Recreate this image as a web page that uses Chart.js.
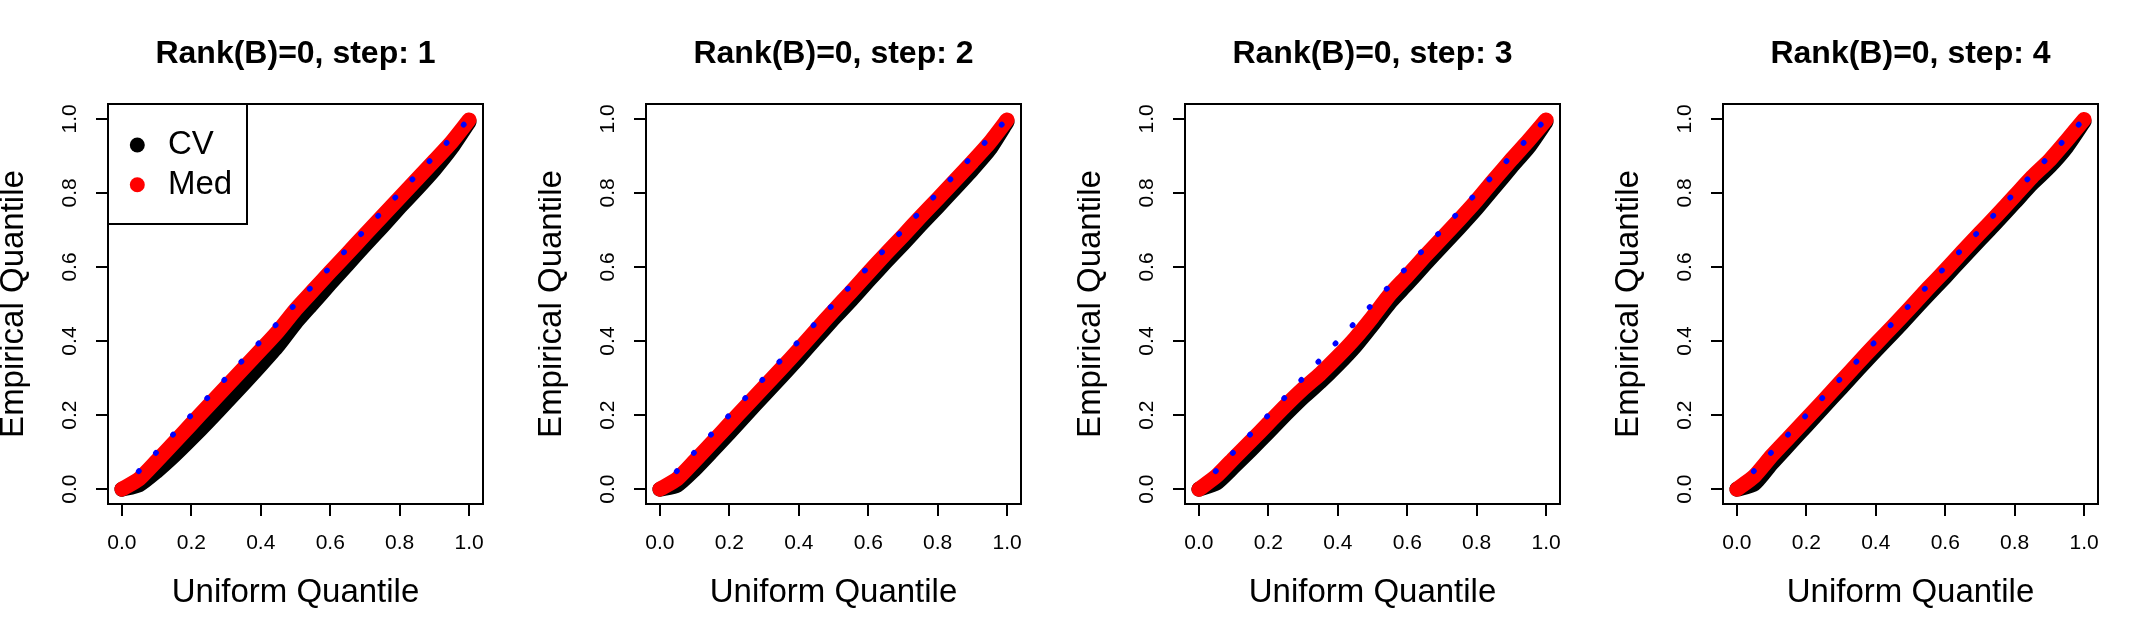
<!DOCTYPE html>
<html>
<head>
<meta charset="utf-8">
<script src="https://cdn.jsdelivr.net/npm/chart.js@4.4.1/dist/chart.umd.min.js"></script>
<style>
  body { margin: 0; background: #fff; width: 2153px; height: 639px; overflow: hidden; position: relative; }
  canvas { position: absolute; top: 0; }
</style>
</head>
<body>
<canvas id="p0" width="538" height="639" style="left:0px"></canvas>
<canvas id="p1" width="538" height="639" style="left:538px"></canvas>
<canvas id="p2" width="538" height="639" style="left:1077px"></canvas>
<canvas id="p3" width="538" height="639" style="left:1615px"></canvas>
<script>
// data QQ plot
const steps = [1, 2, 3, 4];
const uniformQ = [0, 0.05, 0.1, 0.15, 0.2, 0.25, 0.3, 0.35, 0.4, 0.45, 0.5,
                  0.55, 0.6, 0.65, 0.7, 0.75, 0.8, 0.85, 0.9, 0.95, 1];

const medStep1 = [0, 0.028, 0.076, 0.126, 0.176, 0.226, 0.276, 0.326, 0.376, 0.427, 0.485,
                  0.536, 0.587, 0.637, 0.687, 0.737, 0.787, 0.837, 0.887, 0.938, 0.997];
const cvStep1  = [0, 0.012, 0.048, 0.090, 0.136, 0.184, 0.234, 0.284, 0.335, 0.388, 0.449,
                  0.502, 0.555, 0.607, 0.659, 0.709, 0.761, 0.811, 0.863, 0.922, 0.992];

const medStep2 = [0, 0.028, 0.076, 0.126, 0.176, 0.226, 0.276, 0.326, 0.377, 0.430, 0.482,
                  0.532, 0.584, 0.635, 0.684, 0.735, 0.784, 0.834, 0.884, 0.936, 0.997];
const cvStep2  = [0, 0.011, 0.053, 0.102, 0.152, 0.203, 0.254, 0.304, 0.355, 0.408, 0.460,
                  0.510, 0.562, 0.613, 0.662, 0.713, 0.762, 0.812, 0.863, 0.918, 0.992];

const medStep3 = [0, 0.035, 0.083, 0.130, 0.178, 0.226, 0.271, 0.312, 0.358, 0.408, 0.465,
                  0.526, 0.576, 0.628, 0.678, 0.728, 0.780, 0.836, 0.890, 0.942, 0.997];
const cvStep3  = [0, 0.016, 0.060, 0.106, 0.154, 0.202, 0.248, 0.290, 0.336, 0.386, 0.444,
                  0.504, 0.554, 0.606, 0.656, 0.706, 0.758, 0.814, 0.870, 0.924, 0.992];

const medStep4 = [0, 0.035, 0.090, 0.140, 0.190, 0.240, 0.291, 0.342, 0.392, 0.441, 0.491,
                  0.542, 0.591, 0.642, 0.692, 0.741, 0.792, 0.843, 0.888, 0.942, 0.998];
const cvStep4  = [0, 0.014, 0.069, 0.120, 0.171, 0.222, 0.273, 0.324, 0.374, 0.423, 0.473,
                  0.524, 0.573, 0.624, 0.674, 0.723, 0.774, 0.825, 0.870, 0.924, 0.993];

const medSeries = [medStep1, medStep2, medStep3, medStep4];
const cvSeries = [cvStep1, cvStep2, cvStep3, cvStep4];

// garis referensi y = x
const refX = [0, 1];
const refY = [0, 1];

const tickValues = [0, 0.2, 0.4, 0.6, 0.8, 1.0];
const legendLabels = ["CV", "Med"];

const FONT = '"Liberation Sans", Arial, Helvetica, sans-serif';
Chart.defaults.color = "#000";
Chart.defaults.font.family = FONT;

// kotak plot seperti R (box())
const frame = {
    id: "frame",
    afterDatasetsDraw(chart) {
        const { ctx, chartArea: a } = chart;
        ctx.save();
        ctx.strokeStyle = "#000";
        ctx.lineWidth = 2;
        ctx.strokeRect(a.left, a.top, a.right - a.left, a.bottom - a.top);
        ctx.restore();
    }
};

// legenda di pojok kiri atas (hanya panel pertama)
const legendBox = {
    id: "legendBox",
    afterDraw(chart, args, opts) {
        if (!opts.show) return;
        const { ctx, chartArea: a } = chart;
        ctx.save();
        ctx.fillStyle = "#fff";
        ctx.fillRect(a.left, a.top, 139, 120);
        ctx.strokeStyle = "#000";
        ctx.lineWidth = 2;
        ctx.strokeRect(a.left, a.top, 139, 120);
        legendLabels.forEach((lab, i) => {
            const ds = chart.data.datasets.find(d => d.label === lab);
            const y = a.top + 41 + i * 39.7;
            ctx.fillStyle = ds.borderColor;
            ctx.beginPath();
            ctx.arc(a.left + 29.3, y, 7.5, 0, Math.PI * 2);
            ctx.fill();
            ctx.fillStyle = "#000";
            ctx.font = "33px " + FONT;
            ctx.textBaseline = "middle";
            ctx.textAlign = "left";
            ctx.fillText(lab, a.left + 60, y);
        });
        ctx.restore();
    }
};

function makeAxis(title, isX) {
    return {
        type: "linear",
        min: -0.04,
        max: 1.04,
        afterBuildTicks: (scale) => {
            scale.ticks = tickValues.map(v => ({ value: v }));
        },
        afterFit: (scale) => {
            if (isX) scale.height = 135;
            else scale.width = 108;
        },
        border: { display: false },
        grid: {
            drawOnChartArea: false,
            drawTicks: true,
            tickLength: 12,
            color: "#000",
            lineWidth: 2
        },
        ticks: {
            font: { size: 21 },
            color: "#000",
            padding: isX ? 15 : 11,
            minRotation: isX ? 0 : 90,
            maxRotation: isX ? 0 : 90,
            crossAlign: isX ? "near" : "center",
            callback: (v) => Number(v).toFixed(1)
        },
        title: {
            display: true,
            text: title,
            font: { size: 33, lineHeight: 1 },
            color: "#000",
            padding: isX ? { top: 0, bottom: 29.5 } : { top: -3, bottom: 0 }
        }
    };
}

steps.forEach((step, k) => {
    const ctx = document.getElementById("p" + k).getContext("2d");
    new Chart(ctx, {
        type: "scatter",
        data: {
            datasets: [
                {
                    label: "ref",
                    data: refX.map((x, i) => ({ x: x, y: refY[i] })),
                    showLine: true,
                    borderColor: "#0000ff",
                    borderWidth: 5.5,
                    borderDash: [0.5, 24.5],
                    borderDashOffset: 0.5,
                    borderCapStyle: "round",
                    pointRadius: 0
                },
                {
                    label: "Med",
                    data: uniformQ.map((x, i) => ({ x: x, y: medSeries[k][i] })),
                    showLine: true,
                    borderColor: "#ff0000",
                    backgroundColor: "#ff0000",
                    borderWidth: 15,
                    borderCapStyle: "round",
                    borderJoinStyle: "round",
                    tension: 0.2,
                    pointRadius: 0
                },
                {
                    label: "CV",
                    data: uniformQ.map((x, i) => ({ x: x, y: cvSeries[k][i] })),
                    showLine: true,
                    borderColor: "#000000",
                    backgroundColor: "#000000",
                    borderWidth: 15,
                    borderCapStyle: "round",
                    borderJoinStyle: "round",
                    tension: 0.2,
                    pointRadius: 0
                }
            ]
        },
        options: {
            responsive: false,
            animation: false,
            devicePixelRatio: 1,
            layout: { padding: { left: 0, right: 55, top: 0, bottom: 0 } },
            plugins: {
                legend: { display: false },
                tooltip: { enabled: false },
                title: {
                    display: true,
                    text: "Rank(B)=0, step: " + step,
                    fullSize: false,
                    font: { size: 32, weight: "bold", lineHeight: 1.2 },
                    color: "#000",
                    padding: { top: 34.8, bottom: 30.8 }
                },
                legendBox: { show: k === 0 }
            },
            scales: {
                x: makeAxis("Uniform Quantile", true),
                y: makeAxis("Empirical Quantile", false)
            }
        },
        plugins: [frame, legendBox]
    });
});
</script>
</body>
</html>
